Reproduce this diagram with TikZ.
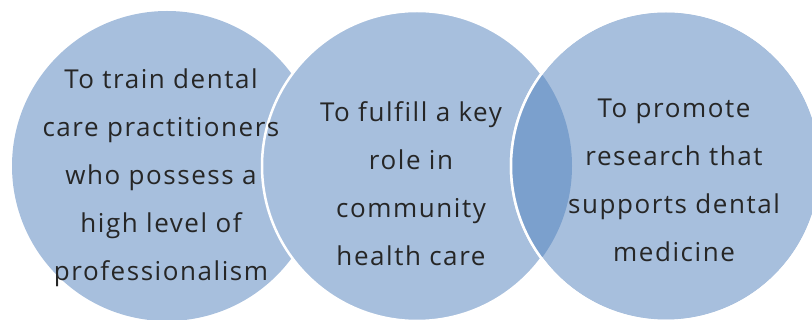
\documentclass[tikz,border=0pt]{standalone}
\usepackage{fontspec}
\setmainfont[Ligatures=NoCommon,LetterSpace=6]{Open Sans}
\definecolor{lightblue}{HTML}{A7BFDD}
\definecolor{darkblue}{HTML}{7BA0CD}
\definecolor{txt}{HTML}{262626}
\begin{document}
\begin{tikzpicture}[x=1pt,y=-1pt,
  circ/.style={circle,fill=lightblue,minimum size=310pt,inner sep=0pt},
  rim/.style={draw=white,line width=2.5pt},
  lbl/.style={text=txt,align=center,font=\fontsize{26}{48}\selectfont}]
\useasboundingbox (0,0) rectangle (812,320);
\clip (0,0) rectangle (812,320);
\node[circ] (c1) at (167,166) {};
\node[circ,rim] (c2) at (417,166) {};
\node[circ,rim] (c3) at (666,166) {};
\begin{scope}
  \clip (c2.center) circle (155);
  \fill[darkblue] (c3.center) circle (155);
\end{scope}
\draw[rim] (c3.center) circle (155);
\node[lbl] (t1) at (161,178) {To train dental\\care practitioners\\who possess a\\high level of\\professionalism};
\node[lbl] (t2) at (411,184) {To fulfill a key\\role in\\community\\health care};
\node[lbl] (t3) at (674,180) {To promote\\research that\\supports dental\\medicine};
\end{tikzpicture}
\end{document}
